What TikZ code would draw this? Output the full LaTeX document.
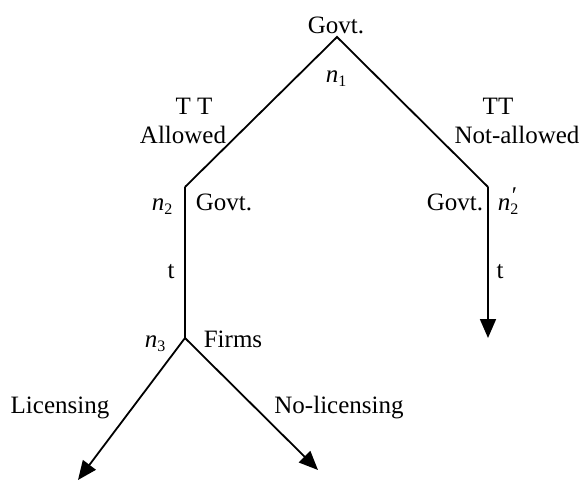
\documentclass[tikz,border=0pt]{standalone}
\usepackage{fontspec}
\setmainfont{Liberation Serif}
\newfontfamily\lserif{Liberation Serif}
\usetikzlibrary{arrows.meta}
\newcommand\nsub[1]{\textit{n}\raisebox{-0.35ex}{\fontsize{16}{16}\selectfont #1}}
\newcommand\nprm[1]{\textit{n}\rlap{\raisebox{0.55ex}{\fontsize{24}{24}\selectfont\textit{\char"2032}}}\raisebox{-0.35ex}{\fontsize{16}{16}\selectfont #1}}
\begin{document}
\begin{tikzpicture}[x=1pt,y=-1pt,
  lbl/.style={anchor=base, inner sep=0pt, font=\lserif\fontsize{25}{29}\selectfont},
  branch/.style={draw, line width=1.8pt, line join=miter},
  arr/.style={-{Triangle[length=19pt,width=16pt]}}]
\useasboundingbox (0,0) rectangle (582,483);
% decision points
\coordinate (n1) at (337,37);
\coordinate (n2) at (185,187);
\coordinate (n2p) at (488,187);
\coordinate (n3) at (185,338);
\coordinate (e1) at (488,338);
\coordinate (e2) at (78,480);
\coordinate (e3) at (318,470);
% connectors
\draw[branch] (n2) -- (n1) -- (n2p);
\draw[branch] (n2) -- (n3);
\draw[branch,arr] (n2p) -- (e1);
\draw[branch,arr] (n3) -- (e2);
\draw[branch,arr] (n3) -- (e3);
% labels
\node[lbl] (govt1) at (336,33) {Govt.};
\node[lbl] (ln1) at (336,82) {\nsub{1}};
\node[lbl] (tt1) at (194,114) {T T};
\node[lbl] (allowed) at (183,143) {Allowed};
\node[lbl] (tt2) at (498,114) {TT};
\node[lbl] (notallowed) at (517,143) {Not-allowed};
\node[lbl] (ln2) at (162,210) {\nsub{2}};
\node[lbl] (govt2) at (224,210) {Govt.};
\node[lbl] (govt3) at (455,210) {Govt.};
\node[lbl] (ln2p) at (508,210) {\nprm{2}};
\node[lbl] (t1) at (171,278) {t};
\node[lbl] (t2) at (500,278) {t};
\node[lbl] (ln3) at (155,347) {\nsub{3}};
\node[lbl] (firms) at (233,347) {Firms};
\node[lbl] (lic) at (60,413) {Licensing};
\node[lbl] (nolic) at (339,413) {No-licensing};
\end{tikzpicture}
\end{document}
